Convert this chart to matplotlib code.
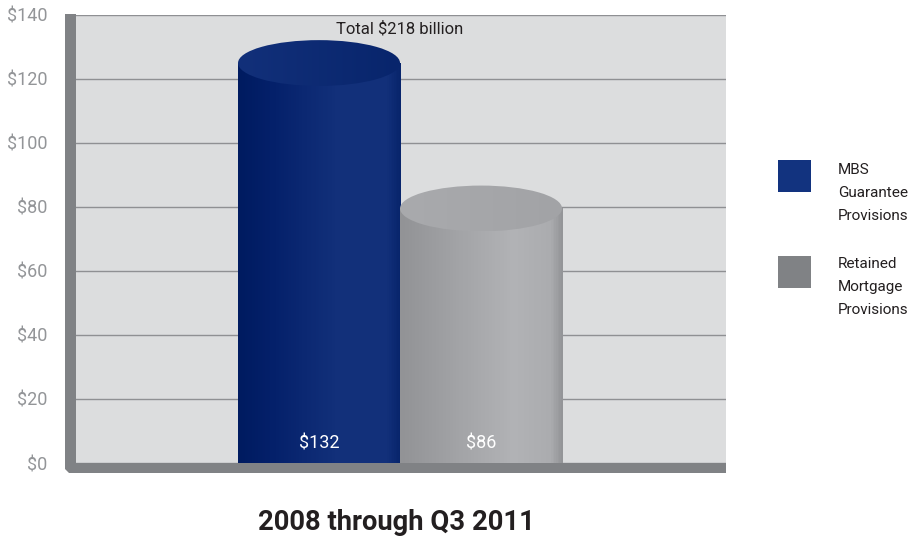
import numpy as np
import matplotlib
matplotlib.use("Agg")
import matplotlib.pyplot as plt
from matplotlib.colors import LinearSegmentedColormap
from matplotlib.patches import Ellipse, Polygon, Rectangle

plt.rcParams['font.family'] = ['Roboto', 'Liberation Sans', 'DejaVu Sans']

# data
categories = ['MBS\nGuarantee\nProvisions', 'Retained\nMortgage\nProvisions']
values = [132, 86.6]
value_labels = ['$132', '$86']
yticks = [0, 20, 40, 60, 80, 100, 120, 140]
total_label = 'Total $218 billion'
xlabel = '2008 through Q3 2011'

blue_side = [(0, '#001b60'), (0.2, '#04206a'), (0.6, '#12307a'), (0.92, '#12307a'), (1, '#08256c')]
grey_side = [(0, '#929396'), (0.3, '#a0a1a4'), (0.7, '#b2b3b6'), (0.93, '#abacaf'), (1, '#949598')]
blue_top = ['#12307a', '#08256c']
grey_top = ['#a9aaad', '#a2a3a6']
legend_colors = ['#12337f', '#808285']

W, H = 912, 539
fig = plt.figure(figsize=(W / 100, H / 100), dpi=100)

# wall and floor of the box, in pixels of the figure
frame = [(65, 14), (76, 14), (76, 463), (726, 463), (726, 473), (69, 473), (65, 469)]
fig.add_artist(Polygon([(x / W, 1 - y / H) for x, y in frame], closed=True, fc='#808285', ec='none',
                       transform=fig.transFigure, zorder=3))

ax = fig.add_axes([76 / W, 1 - 463 / H, 650 / W, 448.5 / H])
ax.set_facecolor('#dcddde')
for s in ax.spines.values():
    s.set_visible(False)
ax.set_xticks([])
ax.set_yticks(yticks)
ax.set_yticklabels(['$%d' % v for v in yticks], color='#939598', fontsize=13)
ax.tick_params(axis='y', length=0, pad=20.5)
ax.yaxis.grid(True, color='#8f9093', lw=1.0)
ax.set_axisbelow(True)

ell_h = 14.3  # height of the top ellipse in y units
for i, v in enumerate(values):
    side = LinearSegmentedColormap.from_list('s', [blue_side, grey_side][i], N=96)
    top = LinearSegmentedColormap.from_list('t', [blue_top, grey_top][i])
    grad = np.linspace(0, 1, 256).reshape(1, -1)
    body = v - ell_h / 2
    ax.imshow(grad, cmap=side, aspect='auto', extent=(i - 0.5, i + 0.5, 0, body), zorder=3, interpolation='nearest')
    e = Ellipse((i, body), 1, ell_h, fc='none', ec='none', zorder=4)
    ax.add_patch(e)
    im = ax.imshow(grad, cmap=top, aspect='auto', extent=(i - 0.5, i + 0.5, body - ell_h / 2, v), zorder=4, interpolation='bilinear')
    im.set_clip_path(e)
    ax.text(i, 6.2, value_labels[i], color='white', fontsize=13, ha='center', va='center', zorder=5)
ax.set_xlim(-1.5, 2.512)
ax.set_ylim(0, 140)

ax.text(0.5, 135.7, total_label, color='#231f20', fontsize=12, ha='center', va='center', zorder=5)
fig.text(396 / W, 1 - 522 / H, xlabel, color='#231f20', fontsize=19.7, fontweight='bold', ha='center', va='center')

# legend
for col, label, sq_y, txt_y in zip(legend_colors, categories, [160, 256], [193, 287]):
    fig.add_artist(Rectangle((778 / W, 1 - (sq_y + 32) / H), 33 / W, 32 / H, fc=col, ec='none', transform=fig.transFigure))
    fig.text(838 / W, 1 - txt_y / H, label, color='#231f20', fontsize=11, ha='left', va='center', linespacing=1.85)

fig.savefig('out.png', dpi=100)
